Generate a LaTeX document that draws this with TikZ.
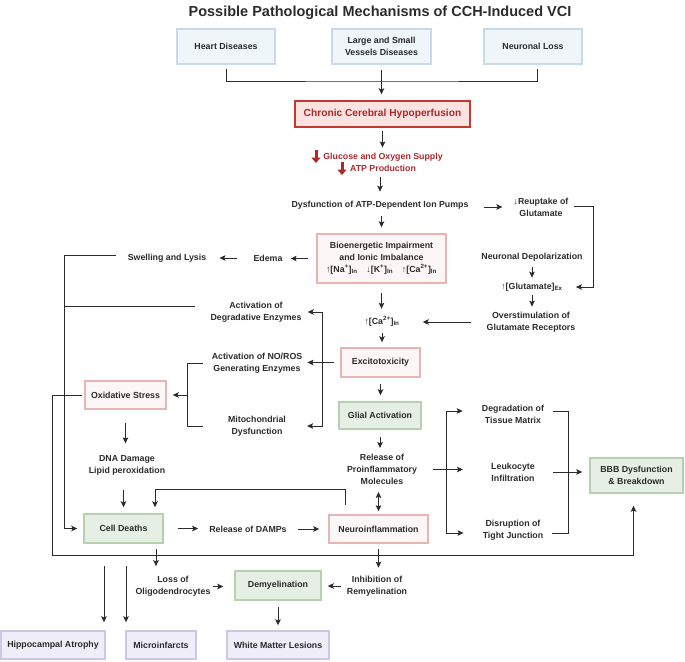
\documentclass[tikz,border=0pt]{standalone}
\usepackage{fontspec}
\setmainfont{Liberation Sans}
\usetikzlibrary{arrows.meta,calc}
\definecolor{ink}{HTML}{2B2B2B}
\definecolor{blueF}{HTML}{EEF6FA}
\definecolor{blueD}{HTML}{C9D9EE}
\definecolor{cchF}{HTML}{FBE3E1}
\definecolor{cchD}{HTML}{C43A33}
\definecolor{cchT}{HTML}{B0282A}
\definecolor{pinkF}{HTML}{FDF6F6}
\definecolor{pinkD}{HTML}{E8B5B5}
\definecolor{greenF}{HTML}{E6EFE4}
\definecolor{greenD}{HTML}{B7D0B0}
\definecolor{purF}{HTML}{EFEDF8}
\definecolor{purD}{HTML}{CBC7E8}
\newcommand{\bodyfont}{\fontsize{8.8}{12}\selectfont\bfseries}
\begin{document}
\begin{tikzpicture}[x=1pt,y=-1pt,
  every node/.style={text=ink, font=\bodyfont},
  txt/.style={align=center, inner sep=1pt},
  box/.style={draw, line width=1.4pt, align=center, inner sep=1pt},
  bluebox/.style={box, fill=blueF, draw=blueD},
  cchbox/.style={box, fill=cchF, draw=cchD},
  pinkbox/.style={box, fill=pinkF, draw=pinkD},
  greenbox/.style={box, fill=greenF, draw=greenD},
  purbox/.style={box, fill=purF, draw=purD},
  conn/.style={draw=ink, line width=1pt},
  arr/.style={conn, -{Stealth[length=6pt,width=5.5pt,inset=1.2pt]}},
  darr/.style={conn, {Stealth[length=6pt,width=5.5pt,inset=1.2pt]}-{Stealth[length=6pt,width=5.5pt,inset=1.2pt]}},
]
\useasboundingbox (0,0) rectangle (685,661);
\node[font=\fontsize{14.5}{16}\selectfont\bfseries] (title) at (380,13) {Possible Pathological Mechanisms of CCH-Induced VCI};

% top boxes
\node[bluebox, minimum width=98, minimum height=35] (heart) at (226,46.5) {Heart Diseases};
\node[bluebox, minimum width=99, minimum height=35] (vessels) at (381.5,46.5) {Large and Small\\Vessels Diseases};
\node[bluebox, minimum width=98, minimum height=35] (neuloss) at (533,46.5) {Neuronal Loss};
\node[cchbox, minimum width=175, minimum height=26, text=cchT, font=\fontsize{10.2}{12}\selectfont\bfseries] (cch) at (382.5,114) {Chronic Cerebral Hypoperfusion};

\node[txt, text=cchT] (glu) at (383,162) {Glucose and Oxygen Supply\\ATP Production};
\draw[draw=cchT, line width=3pt, -{Triangle[length=5.5pt,width=9pt]}] (316,149.5) -- (316,163);
\draw[draw=cchT, line width=3pt, -{Triangle[length=5.5pt,width=9pt]}] (342,161.5) -- (342,175);

\node[txt] (dys) at (380,205) {Dysfunction of ATP-Dependent Ion Pumps};
\node[txt] (reup) at (541,207.5) {↓Reuptake of\\Glutamate};
\node[pinkbox, minimum width=129, minimum height=49] (bio) at (381.5,258.5) {Bioenergetic Impairment\\and Ionic Imbalance\\↑[Na\textsuperscript{+}]\textsubscript{In}\quad ↓[K\textsuperscript{+}]\textsubscript{In}\quad ↑[Ca\textsuperscript{2+}]\textsubscript{In}};
\node[txt] (edema) at (268,258) {Edema};
\node[txt] (swell) at (167,258) {Swelling and Lysis};
\node[txt] (neudep) at (532,257) {Neuronal Depolarization};
\node[txt] (gluex) at (532,287) {↑[Glutamate]\textsubscript{Ex}};
\node[txt] (overst) at (531,322) {Overstimulation of\\Glutamate Receptors};
\node[txt] (cain) at (382,321) {↑[Ca\textsuperscript{2+}]\textsubscript{In}};
\node[pinkbox, minimum width=79, minimum height=29] (excito) at (380.5,362.5) {Excitotoxicity};
\node[txt] (degr) at (256,312) {Activation of\\Degradative Enzymes};
\node[txt] (noros) at (257,363) {Activation of NO/ROS\\Generating Enzymes};
\node[txt] (mito) at (257,426) {Mitochondrial\\Dysfunction};
\node[pinkbox, minimum width=81, minimum height=28] (oxid) at (125.5,395) {Oxidative Stress};
\node[txt] (dna) at (127,465.5) {DNA Damage\\Lipid peroxidation};
\node[greenbox, minimum width=79, minimum height=29] (celld) at (123.5,528.5) {Cell Deaths};
\node[txt] (damps) at (248,529) {Release of DAMPs};
\node[pinkbox, minimum width=99, minimum height=28] (neuinf) at (378.5,529) {Neuroinflammation};
\node[greenbox, minimum width=82, minimum height=27] (glial) at (380,415.5) {Glial Activation};
\node[txt] (relpro) at (382,469.5) {Release of\\Proinflammatory\\Molecules};
\node[txt] (tissue) at (513,414.5) {Degradation of\\Tissue Matrix};
\node[txt] (leuko) at (513,472) {Leukocyte\\Infiltration};
\node[txt] (tight) at (513,530) {Disruption of\\Tight Junction};
\node[greenbox, minimum width=93, minimum height=35] (bbb) at (636.5,475.5) {BBB Dysfunction\\\& Breakdown};
\node[txt] (loss) at (173,586.5) {Loss of\\Oligodendrocytes};
\node[greenbox, minimum width=86, minimum height=29] (demy) at (278,585.5) {Demyelination};
\node[txt] (inhib) at (377,586) {Inhibition of\\Remyelination};
\node[purbox, minimum width=104, minimum height=28] (hippo) at (53,645) {Hippocampal Atrophy};
\node[purbox, minimum width=70, minimum height=28] (micro) at (161,645) {Microinfarcts};
\node[purbox, minimum width=102, minimum height=28] (wml) at (278,645) {White Matter Lesions};

% helper coordinates
\coordinate (hub) at (382,81);
\coordinate (rx) at (593,0);
\coordinate (lx) at (64,0);
\coordinate (bk) at (322,0);
\coordinate (bl) at (187,0);
\coordinate (ox) at (52,0);
\coordinate (loopy) at (0,555);
\coordinate (lp) at (0,489);
\coordinate (tb) at (463,0);
\coordinate (bx3) at (446,0);
\coordinate (bx4) at (568,0);
\coordinate (f1) at (104,566);
\coordinate (f2) at (126,566);
\coordinate (dgw) at ([yshift=6pt]degr.west);
\coordinate (nA) at ([xshift=-33.5pt]neuinf.north);
\coordinate (cA) at ([xshift=31.5pt]celld.north);
\coordinate (cB) at ([xshift=32.5pt]celld.south);
\coordinate (tiw) at ([yshift=3.5pt]tissue.west);
\coordinate (tie) at ([yshift=3.5pt]tissue.east);
\coordinate (tgw) at ([yshift=-3pt]tight.west);
\coordinate (tge) at ([yshift=-3pt]tight.east);
\coordinate (dyse) at ([yshift=-2pt]dys.east);
\coordinate (bbbs) at ([xshift=-3pt]bbb.south);

% connectors
\draw[conn] ([yshift=-4pt]heart.south) |- (hub) -| ([yshift=-4pt,xshift=4pt]neuloss.south);
\draw[arr, shorten <=5pt, shorten >=6pt] (vessels.south) -- (vessels.south |- cch.north);
\draw[arr, shorten <=3pt, shorten >=4pt] (cch.south) -- (cch.south |- glu.north);
\draw[arr, shorten <=5pt, shorten >=8pt] (dys.north |- glu.south) -- (dys.north);
\draw[arr, shorten <=14pt, shorten >=10pt] (dyse) -- (dyse -| reup.west);
\draw[arr, shorten <=4pt, shorten >=12pt] ([yshift=1.5pt]reup.east) -| (rx |- gluex.east) -- (gluex.east);
\draw[arr, shorten <=6pt, shorten >=6pt] (bio.north |- dys.south) -- (bio.north);
\draw[arr, shorten <=8pt, shorten >=7pt] (bio.west) -- (bio.west -| edema.east);
\draw[arr, shorten <=15pt, shorten >=12pt] (edema.west) -- (edema.west -| swell.east);
\draw[arr, shorten <=11pt, shorten >=6pt] ([yshift=3pt]swell.west) -| (lx |- celld.west) -- (celld.west);
\draw[conn, shorten <=14pt] (dgw) -- (lx |- dgw);
\draw[arr, shorten <=9pt, shorten >=6pt] (bio.south) -- (bio.south |- cain.north);
\draw[arr, shorten <=5pt, shorten >=4pt] (neudep.south) -- (neudep.south |- gluex.north);
\draw[arr, shorten <=3pt, shorten >=4pt] (gluex.south) -- (gluex.south |- overst.north);
\draw[arr, shorten <=15pt, shorten >=22pt] (overst.west) -- (overst.west -| cain.east);
\draw[arr, shorten <=6pt, shorten >=5pt] (cain.south) -- (cain.south |- excito.north);
\draw[arr, shorten <=6pt, shorten >=4pt] (excito.west) -- (excito.west -| noros.east);
\draw[darr, shorten <=5pt, shorten >=20pt] (degr.east) -| (bk |- mito.east) -- (mito.east);
\draw[conn, shorten <=8pt, shorten >=24pt] (noros.west) -| (bl |- mito.west) -- (mito.west);
\draw[arr, shorten >=6pt] (bl |- oxid.east) -- (oxid.east);
\draw[arr, shorten <=2pt, shorten >=12pt] (oxid.west) -| (ox |- loopy) -| (bbbs);
\draw[arr, shorten <=13pt, shorten >=11pt] (oxid.south) -- (oxid.south |- dna.north);
\draw[arr, shorten <=13pt, shorten >=6pt] (celld.north |- dna.south) -- (celld.north);
\draw[arr, shorten <=14pt, shorten >=10pt] (celld.east) -- (celld.east -| damps.west);
\draw[arr, shorten <=10pt, shorten >=9pt] (damps.east) -- (damps.east -| neuinf.west);
\draw[arr, shorten <=9pt, shorten >=6pt] (nA) -- (nA |- lp) -| (cA);
\draw[arr, shorten <=6pt, shorten >=6pt] (excito.south) -- (excito.south |- glial.north);
\draw[arr, shorten <=7pt, shorten >=5pt] (glial.south) -- (glial.south |- relpro.north);
\draw[darr, shorten <=6pt, shorten >=3pt] (neuinf.north |- relpro.south) -- (neuinf.north);
\draw[arr, shorten <=15pt] (relpro.east) -- (relpro.east -| tb);
\draw[darr, shorten <=18pt, shorten >=18pt] (tiw) -| (bx3 |- tgw) -- (tgw);
\draw[conn, shorten <=8pt, shorten >=8pt] (tie) -| (bx4 |- tge) -- (tge);
\draw[arr, shorten <=17pt, shorten >=7pt] (leuko.east) -- (leuko.east -| bbb.west);
\draw[arr, shorten <=5pt, shorten >=9pt] (cB) -- (cB |- loss.north);
\draw[arr, shorten <=5pt, shorten >=7pt] (neuinf.south) -- (neuinf.south |- inhib.north);
\draw[arr, shorten <=1pt, shorten >=11pt] (loss.east) -- (loss.east -| demy.west);
\draw[arr, shorten <=5pt, shorten >=6pt] (inhib.west) -- (inhib.west -| demy.east);
\draw[arr, shorten <=6pt, shorten >=5pt] (demy.south) -- (demy.south |- wml.north);
\draw[arr, shorten >=8pt] (f1) -- (f1 |- hippo.north);
\draw[arr, shorten >=8pt] (f2) -- (f2 |- micro.north);
\end{tikzpicture}
\end{document}
